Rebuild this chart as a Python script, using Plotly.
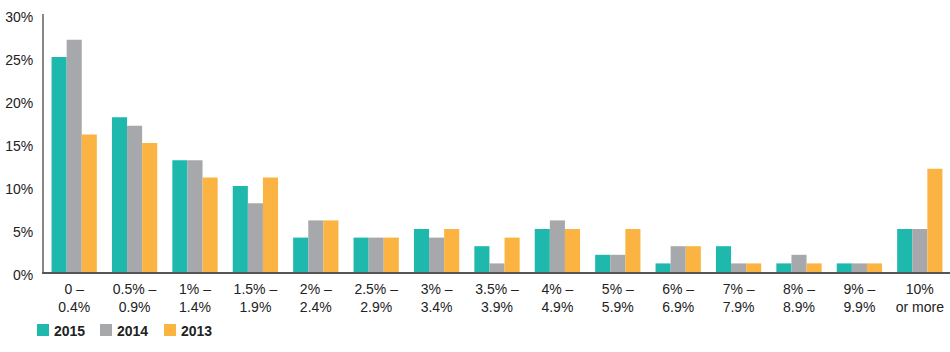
import plotly.graph_objects as go

categories = ["0 –<br>0.4%", "0.5% –<br>0.9%", "1% –<br>1.4%", "1.5% –<br>1.9%", "2% –<br>2.4%",
              "2.5% –<br>2.9%", "3% –<br>3.4%", "3.5% –<br>3.9%", "4% –<br>4.9%", "5% –<br>5.9%",
              "6% –<br>6.9%", "7% –<br>7.9%", "8% –<br>8.9%", "9% –<br>9.9%", "10%<br>or more"]
series_names = ["2015", "2014", "2013"]
v2015 = [25, 18, 13, 10, 4, 4, 5, 3, 5, 2, 1, 3, 1, 1, 5]
v2014 = [27, 17, 13, 8, 6, 4, 4, 1, 6, 2, 3, 1, 2, 1, 5]
v2013 = [16, 15, 11, 11, 6, 4, 5, 4, 5, 5, 3, 1, 1, 1, 12]
colors = ["#1eb8ac", "#a7a8ab", "#fbb441"]
tickvals = [0, 5, 10, 15, 20, 25, 30]
ticktext = ["0%", "5%", "10%", "15%", "20%", "25%", "30%"]

W, H = 950, 352
L, R, T, B = 44, 0, 14, 80
pw, ph = W - L - R, H - T - B

def px_x(p):
    return (p - L) / pw

def px_y(p):
    return (H - B - p) / ph

fig = go.Figure()
for name, vals, col in zip(series_names, [v2015, v2014, v2013], colors):
    fig.add_trace(go.Bar(x=categories, y=vals, name=name, marker=dict(color=col, line=dict(width=0))))

# custom legend (squares + bold labels)
legend_x = [37, 100, 164]
shapes = []
annotations = []
for lx, name, col in zip(legend_x, series_names, colors):
    shapes.append(dict(type="rect", xref="paper", yref="paper",
                       x0=px_x(lx), x1=px_x(lx + 12), y0=px_y(336), y1=px_y(324),
                       fillcolor=col, line=dict(width=0)))
    annotations.append(dict(xref="paper", yref="paper", x=px_x(lx + 15), y=px_y(330.5),
                            xanchor="left", yanchor="middle", showarrow=False,
                            text="<b>" + name + "</b>", font=dict(size=14, color="#222")))

fig.update_layout(
    width=W, height=H,
    margin=dict(l=L, r=R, t=T, b=B),
    barmode="group", bargap=0.25, bargroupgap=0,
    plot_bgcolor="white", paper_bgcolor="white",
    font=dict(family="Liberation Sans, Arial, sans-serif", size=14, color="#222"),
    showlegend=False,
    shapes=shapes, annotations=annotations,
    xaxis=dict(showline=True, linecolor="#555", linewidth=1.5, ticks="", showgrid=False,
               range=[-0.5, 14.5], tickfont=dict(size=14), ticklabelstandoff=3),
    yaxis=dict(showline=True, linecolor="#888", linewidth=2, showgrid=False, zeroline=False,
               range=[0, 30], tickvals=tickvals, ticktext=ticktext, ticks="", ticklabelstandoff=6,
               ticklabelshift=3, tickfont=dict(size=14)),
)
fig.write_html("out.html")
